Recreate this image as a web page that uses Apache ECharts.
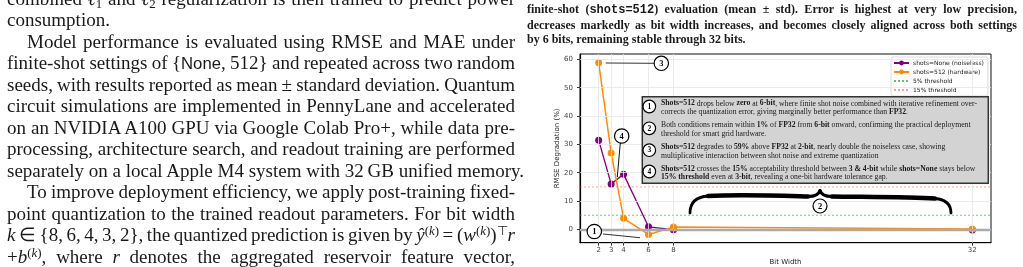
<!DOCTYPE html>
<html><head><meta charset="utf-8">
<script src="https://cdn.jsdelivr.net/npm/echarts@6/dist/echarts.min.js"></script>
<style>
html,body{margin:0;padding:0;background:#fff;width:1023px;height:267px;overflow:hidden;}
#chart{position:absolute;left:0;top:0;width:1023px;height:267px;}
.ln{position:absolute;white-space:nowrap;color:#1a1a1a;}
.body{left:7px;font-family:'Liberation Serif',serif;font-size:19px;height:21.5px;line-height:21.5px;}
.ind{left:27px;}
.cap{left:527px;font-family:'Liberation Serif',serif;font-weight:bold;font-size:12px;height:15px;line-height:15px;}
.sf{font-family:'Liberation Sans',sans-serif;font-size:0.88em;}
.tt{font-family:'Liberation Mono',monospace;}
sup{font-size:0.68em;line-height:0;vertical-align:0.45em;}
sub{font-size:0.68em;line-height:0;vertical-align:-0.25em;}
</style></head><body>
<div id="chart"></div>

<div class="ln body fit" data-w="508" style="top:-12.25px">combined <i>ℓ</i><sub>1</sub> and <i>ℓ</i><sub>2</sub> regularization is then trained to predict power</div>
<div class="ln body" style="top:9.25px">consumption.</div>
<div class="ln body ind fit" data-w="488" style="top:30.75px">Model performance is evaluated using RMSE and MAE under</div>
<div class="ln body fit" data-w="508" style="top:52.25px">finite-shot settings of {<span class="sf">None</span>, 512} and repeated across two random</div>
<div class="ln body fit" data-w="508" style="top:73.75px">seeds, with results reported as mean ± standard deviation. Quantum</div>
<div class="ln body fit" data-w="508" style="top:95.25px">circuit simulations are implemented in PennyLane and accelerated</div>
<div class="ln body fit" data-w="508" style="top:116.75px">on an NVIDIA A100 GPU via Google Colab Pro+, while data pre-</div>
<div class="ln body fit" data-w="508" style="top:138.25px">processing, architecture search, and readout training are performed</div>
<div class="ln body" style="top:159.75px">separately on a local Apple M4 system with 32&#8201;GB unified memory.</div>
<div class="ln body ind fit" data-w="488" style="top:181.25px">To improve deployment efficiency, we apply post-training fixed-</div>
<div class="ln body fit" data-w="508" style="top:202.75px">point quantization to the trained readout parameters. For bit width</div>
<div class="ln body fit" data-w="508" style="top:224.25px"><i>k</i> ∈ {8, 6, 4, 3, 2}, the quantized prediction is given by <i>ŷ</i><sup>(<i>k</i>)</sup> = (<i>w</i><sup>(<i>k</i>)</sup>)<sup>⊤</sup><i>r</i></div>
<div class="ln body fit" data-w="508" style="top:245.75px">+<i>b</i><sup>(<i>k</i>)</sup>, where <i>r</i> denotes the aggregated reservoir feature vector,</div>

<div class="ln cap fit" data-w="490" style="top:1.8px">finite-shot (<span class="tt">shots=512</span>) evaluation (mean ± std). Error is highest at very low precision,</div>
<div class="ln cap fit" data-w="490" style="top:17.5px">decreases markedly as bit width increases, and becomes closely aligned across both settings</div>
<div class="ln cap" style="top:31.8px">by 6 bits, remaining stable through 32 bits.</div>

<script>
// ---- data ----
const bitWidths = [2, 3, 4, 6, 8, 32];
const noiselessDeg = [31.5, 16.0, 19.5, 0.9, -0.1, -0.2];
const hardwareDeg = [58.8, 27.0, 3.9, -1.8, 0.8, 0.1];
const xTickValues = [2, 3, 4, 6, 8, 32];
const yTickValues = [0, 10, 20, 30, 40, 50, 60];
const thresholdValues = [5, 15];
const seriesNames = ['shots=None (noiseless)', 'shots=512 (hardware)'];
const thresholdNames = ['5% threshold', '15% threshold'];
const notes = [
 '{b|Shots=512} drops below {b|zero} at {b|6-bit}, where finite shot noise combined with iterative refinement over-\ncorrects the quantization error, giving marginally better performance than {b|FP32}.',
 'Both conditions remain within {b|1%} of {b|FP32} from {b|6-bit} onward, confirming the practical deployment\nthreshold for smart grid hardware.',
 '{b|Shots=512} degrades to {b|59%} above {b|FP32} at {b|2-bit}, nearly double the noiseless case, showing\nmultiplicative interaction between shot noise and extreme quantization',
 '{b|Shots=512} crosses the {b|15%} acceptability threshold between {b|3 & 4-bit} while {b|shots=None} stays below\n{b|15% threshold} even at {b|3-bit}, revealing a one-bit hardware tolerance gap.'
];

// ---- text fitting (justify) ----
document.querySelectorAll('.fit').forEach(el => {
  const target = +el.dataset.w;
  el.style.wordSpacing = '0px';
  const w = el.getBoundingClientRect().width;
  const n = (el.textContent.match(/ /g) || []).length;
  if (n > 0) el.style.wordSpacing = ((target - w) / n) + 'px';
});

const X_MIN = 0.5, X_MAX = 33.5, Y_MIN = -4.7, Y_MAX = 61.9;
const TICK_FONT = 'DejaVu Sans';
const NOTE_FS = 7.7;

const thrColors = ['rgba(60,170,60,0.75)', 'rgba(255,90,90,0.6)'];

const series = [
  { // grid lines
    type: 'line', data: [], silent: true, z: 1,
    markLine: {
      silent: true, symbol: ['none', 'none'], label: { show: false }, animation: false,
      lineStyle: { color: '#e6e6e6', width: 0.8, type: 'solid' },
      emphasis: { disabled: true },
      data: [...xTickValues.map(v => ({ xAxis: v })), ...yTickValues.map(v => ({ yAxis: v }))]
    }
  },
  { // zero line
    type: 'line', data: [], silent: true, z: 1,
    markLine: {
      silent: true, symbol: ['none', 'none'], label: { show: false }, animation: false,
      lineStyle: { color: '#aaaaaa', width: 2.4, type: 'solid' },
      emphasis: { disabled: true },
      data: [{ yAxis: 0 }]
    }
  },
  ...thresholdValues.map((t, i) => ({
    name: thresholdNames[i], type: 'line', z: 2, silent: true,
    data: [[X_MIN, t], [X_MAX, t]], showSymbol: false, symbol: 'none',
    lineStyle: { color: thrColors[i], width: 0.9, type: [2, 2] },
    itemStyle: { color: thrColors[i] }
  })),
  {
    name: seriesNames[0], type: 'line', z: 3,
    data: bitWidths.map((b, i) => [b, noiselessDeg[i]]),
    symbol: 'circle', symbolSize: 7,
    lineStyle: { color: '#800080', width: 1.3 }, itemStyle: { color: '#800080' }
  },
  {
    name: seriesNames[1], type: 'line', z: 4,
    data: bitWidths.map((b, i) => [b, hardwareDeg[i]]),
    symbol: 'circle', symbolSize: 7,
    lineStyle: { color: '#ff8c00', width: 1.5 }, itemStyle: { color: '#ff8c00' }
  }
];

// ---- annotations ----
const G = [];
function circ(cx, cy, r, label, fs) {
  return [
    { type: 'circle', z: 20, shape: { cx, cy, r }, style: { fill: '#fff', stroke: '#000', lineWidth: 1.2 } },
    { type: 'text', z: 21, style: { text: label, x: cx, y: cy + 0.3, align: 'center', verticalAlign: 'middle', textAlign: 'center', textVerticalAlign: 'middle', font: 'bold ' + fs + 'px "Liberation Serif"', fill: '#000' } }
  ];
}
function seg(x1, y1, x2, y2, w, c) {
  return { type: 'line', z: 15, shape: { x1, y1, x2, y2 }, style: { stroke: c || '#333', lineWidth: w || 1 } };
}
function bez(x1, y1, cpx1, cpy1, cpx2, cpy2, x2, y2, w) {
  return { type: 'bezierCurve', z: 15, shape: { x1, y1, cpx1, cpy1, cpx2, cpy2, x2, y2 }, style: { stroke: '#000', lineWidth: w, lineCap: 'round', fill: null } };
}
G.push({ type: 'rect', z: 10, shape: { x: 642.3, y: 96.7, width: 346, height: 86.6 }, style: { fill: '#d3d3d3', stroke: '#333', lineWidth: 1.5 } });
const rowCenters = [103.5, 125.2, 146.9, 168.6];
const circCenters = [106.5, 128.3, 150.2, 171.5];
notes.forEach((t, i) => {
  G.push({ type: 'text', z: 12, style: {
    text: t, x: 661, y: rowCenters[i] - 4.4, verticalAlign: 'top', textVerticalAlign: 'top',
    fontSize: NOTE_FS, fontFamily: 'Liberation Serif', fill: '#1a1a1a', lineHeight: 8.8,
    rich: { b: { fontWeight: 'bold', fontSize: NOTE_FS, fontFamily: 'Liberation Serif', fill: '#1a1a1a', lineHeight: 8.8 } }
  } });
  G.push(...circ(649.3, circCenters[i], 6.3, String(i + 1), 7.5));
});
// callout 3
G.push(seg(605.7, 63, 654, 63.3, 1, '#333'));
G.push(...circ(661.3, 63.3, 7.2, '3', 8.5));
// callout 4
G.push(seg(620.3, 143, 617.3, 177, 1, '#111'));
G.push(...circ(621.7, 136, 7.2, '4', 8.5));
// callout 1
G.push(seg(603, 234, 640, 237.7, 1, '#333'));
G.push(...circ(594.3, 231.5, 7.2, '1', 8.5));
// brace + callout 2
G.push(bez(690, 213, 690, 203, 695, 197, 708, 196, 2.8));
G.push(bez(708, 196, 740, 194, 790, 196, 808, 196.5, 4.5));
G.push(bez(808, 196.5, 815, 196.5, 819, 194, 820, 190.5, 3));
G.push(bez(820, 190.5, 821, 194, 825, 196.5, 832, 196.5, 3));
G.push(bez(832, 196.5, 860, 197, 910, 197, 935, 198.5, 4.5));
G.push(bez(935, 198.5, 947, 199.5, 951, 205, 951, 213, 2.8));
G.push(...circ(820, 206, 7, '2', 8.5));

const option = {
  animation: false,
  grid: { left: 580, right: 32, top: 54, bottom: 24.3, containLabel: false, outerBoundsMode: 'none', show: true, borderColor: '#111', borderWidth: 1, backgroundColor: 'transparent' },
  xAxis: {
    type: 'value', min: X_MIN, max: X_MAX,
    axisLine: { show: true, onZero: false, lineStyle: { color: '#000', width: 1.2 } },
    axisTick: { show: true, customValues: xTickValues, length: 3, lineStyle: { color: '#333' } },
    axisLabel: { customValues: xTickValues, fontSize: 7, color: '#444', margin: 4, fontFamily: TICK_FONT },
    splitLine: { show: false },
    name: 'Bit Width', nameLocation: 'middle', nameGap: 13,
    nameTextStyle: { fontSize: 7, color: '#222', fontFamily: TICK_FONT }
  },
  yAxis: {
    type: 'value', min: Y_MIN, max: Y_MAX,
    axisLine: { show: true, onZero: false, lineStyle: { color: '#000', width: 1.2 } },
    axisTick: { show: true, customValues: yTickValues, length: 3, lineStyle: { color: '#333' } },
    axisLabel: { customValues: yTickValues, fontSize: 7, color: '#444', margin: 7, fontFamily: TICK_FONT },
    splitLine: { show: false },
    name: 'RMSE Degradation (%)', nameLocation: 'middle', nameGap: 12, nameRotate: 90,
    nameTextStyle: { fontSize: 7, color: '#222', fontFamily: TICK_FONT }
  },
  legend: {
    orient: 'vertical', left: 891, top: 57,
    data: [
      ...seriesNames.map(n => ({ name: n })),
      ...thresholdNames.map(n => ({ name: n, itemStyle: { opacity: 0 } }))
    ],
    itemWidth: 15, itemHeight: 6, itemGap: 3,
    padding: [3, 4, 3, 2],
    backgroundColor: 'rgba(255,255,255,0.9)', borderColor: '#d0d0d0', borderWidth: 0.8, borderRadius: 2,
    textStyle: { fontSize: 6, color: '#222', fontFamily: TICK_FONT, padding: [0, 0, 0, -1] },
    selectedMode: false
  },
  series,
  graphic: { elements: G }
};
const chart = echarts.init(document.getElementById('chart'), null, { renderer: 'canvas' });
chart.setOption(option);
</script>
</body></html>
